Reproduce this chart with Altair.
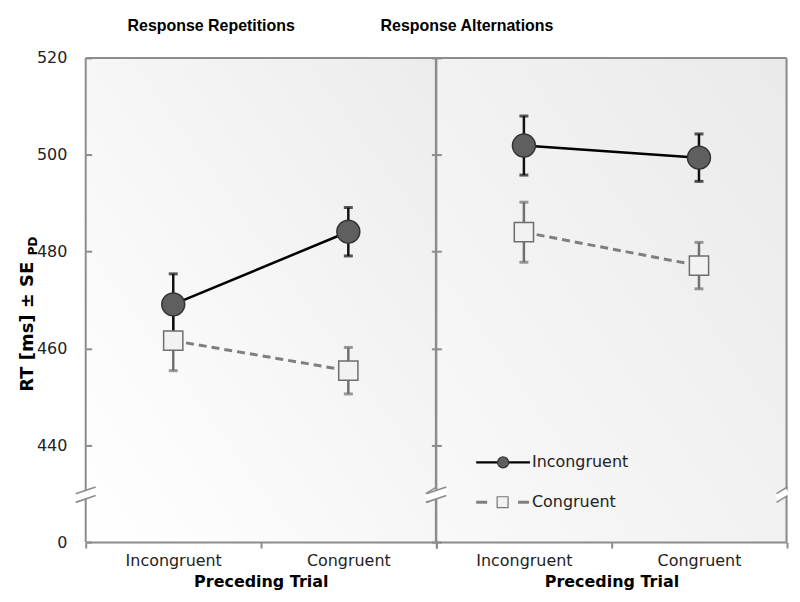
import altair as alt
import pandas as pd

# ---------------- data ----------------
panels = ["Response Repetitions", "Response Alternations"]
preceding = ["Incongruent", "Congruent"]
series_names = ["Incongruent", "Congruent"]

rep_incong_mean = [469.1, 484.1]
rep_incong_se = [6.3, 5.0]
rep_cong_mean = [461.6, 455.4]
rep_cong_se = [6.2, 4.8]

alt_incong_mean = [501.9, 499.4]
alt_incong_se = [6.1, 4.9]
alt_cong_mean = [484.0, 477.1]
alt_cong_se = [6.2, 4.8]

y_tick_values = [420, 440, 460, 480, 500, 520]
y_axis_break = [428.2, 429.1, 430.0]  # lower slash, gap, upper slash (data units)
legend_labels = ["Incongruent", "Congruent"]
y_title = "RT [ms] ± SE"
y_title_sub = "PD"
x_title = "Preceding Trial"

rows = []
for pname, s_means in [
    (panels[0], [(series_names[0], rep_incong_mean, rep_incong_se),
                 (series_names[1], rep_cong_mean, rep_cong_se)]),
    (panels[1], [(series_names[0], alt_incong_mean, alt_incong_se),
                 (series_names[1], alt_cong_mean, alt_cong_se)]),
]:
    for sname, means, ses in s_means:
        for p, m, s in zip(preceding, means, ses):
            rows.append({"panel": pname, "series": sname, "prev": p,
                         "mean": m, "lo": m - s, "hi": m + s})
df = pd.DataFrame(rows)

# ---------------- styling ----------------
W, H = 351.5, 486
EDGE = "#8c8c8c"
LABEL_FONT = "DejaVu Sans"

xscale = alt.Scale(type="band", domain=preceding, paddingInner=0, paddingOuter=0)
yscale = alt.Scale(domain=[420, 520], nice=False, zero=False)

xaxis = alt.Axis(title=x_title, tickBand="extent", domain=True, domainColor=EDGE,
                 domainWidth=2, tickColor=EDGE, tickWidth=2, tickSize=6,
                 labelFont=LABEL_FONT, labelFontSize=16, labelColor="#222",
                 labelPadding=5, labelAngle=0, titleFont=LABEL_FONT,
                 titleFontWeight="bold", titleFontSize=16, titleColor="#000",
                 titlePadding=5, grid=False, zindex=1)

yaxis_left = alt.Axis(values=y_tick_values,
                      labelExpr="datum.value == 420 ? '0' : datum.label",
                      domain=False, tickSize=6, offset=-6, tickColor=EDGE,
                      tickWidth=2, labelFont=LABEL_FONT, labelFontSize=16,
                      labelColor="#222", labelPadding=19, labelFlush=False,
                      labelOverlap=False, grid=False, title=None, zindex=1)
yaxis_right = alt.Axis(values=y_tick_values, labels=False, domain=False,
                       tickSize=10, offset=-5, tickColor=EDGE, tickWidth=2,
                       grid=False, title=None, zindex=1)

one = pd.DataFrame({"k": [0]})


def make_panel(pname, title_dx, title_offset, left, stops):
    yaxis = yaxis_left if left else yaxis_right

    def Y(field):
        return alt.Y(field, scale=yscale, axis=yaxis)

    d = df[df.panel == pname]
    xenc = alt.X("prev:N", sort=preceding, scale=xscale, axis=xaxis)
    base = alt.Chart(d)
    inc = base.transform_filter(alt.datum.series == series_names[0])
    con = base.transform_filter(alt.datum.series == series_names[1])

    bg = alt.Chart(one).mark_rect(fill={
        "gradient": "linear", "x1": 0, "y1": 1, "x2": 1, "y2": 0,
        "stops": [{"offset": o, "color": c} for o, c in stops]}).encode(
        x=alt.value(0), x2=alt.value(W), y=alt.value(0), y2=alt.value(H))

    edges = alt.Chart(pd.DataFrame({"a": [520], "b": [420]}))
    top = edges.mark_rule(color=EDGE, strokeWidth=2).encode(
        x=alt.value(0), x2=alt.value(W), y=Y("a:Q"))
    vl = edges.mark_rule(color=EDGE, strokeWidth=2).encode(
        x=alt.value(0), y=Y("a:Q"), y2="b:Q")
    vr = edges.mark_rule(color=EDGE, strokeWidth=2).encode(
        x=alt.value(W), y=Y("a:Q"), y2="b:Q")

    layers = [bg, top, vl, vr]

    lo, mid, up = y_axis_break
    bd = alt.Chart(pd.DataFrame({"lo1": [lo], "lo2": [lo + 1.4], "m1": [mid],
                                 "m2": [mid + 1.4], "u1": [up], "u2": [up + 1.4]}))
    for xa, xb in [(-10, 10), (W - 10, W + 1)]:
        layers += [
            bd.mark_rule(color="white", strokeWidth=7, strokeCap="butt").encode(
                x=alt.value(xa), x2=alt.value(xb), y=Y("m1:Q"), y2="m2:Q"),
            bd.mark_rule(color=EDGE, strokeWidth=1.6).encode(
                x=alt.value(xa), x2=alt.value(xb), y=Y("lo1:Q"), y2="lo2:Q"),
            bd.mark_rule(color=EDGE, strokeWidth=1.6).encode(
                x=alt.value(xa), x2=alt.value(xb), y=Y("u1:Q"), y2="u2:Q"),
        ]

    layers += [
        con.mark_line(color="#7f7f7f", strokeWidth=3, strokeDash=[8, 5]).encode(x=xenc, y=Y("mean:Q")),
        inc.mark_line(color="#000000", strokeWidth=2.5).encode(x=xenc, y=Y("mean:Q")),
        con.mark_rule(color="#707070", strokeWidth=2.5).encode(x=xenc, y=Y("lo:Q"), y2="hi:Q"),
        con.mark_tick(color="#707070", size=9, thickness=3).encode(x=xenc, y=Y("lo:Q")),
        con.mark_tick(color="#707070", size=9, thickness=3).encode(x=xenc, y=Y("hi:Q")),
        inc.mark_rule(color="#111111", strokeWidth=2.5).encode(x=xenc, y=Y("lo:Q"), y2="hi:Q"),
        inc.mark_tick(color="#111111", size=9, thickness=3).encode(x=xenc, y=Y("lo:Q")),
        inc.mark_tick(color="#111111", size=9, thickness=3).encode(x=xenc, y=Y("hi:Q")),
        con.mark_point(shape="square", filled=True, fill="#f2f2f2", stroke="#6e6e6e",
                       strokeWidth=1.5, size=372, opacity=1).encode(x=xenc, y=Y("mean:Q")),
        inc.mark_point(shape="circle", filled=True, fill="#5f5f5f", stroke="#333333",
                       strokeWidth=1.5, size=529, opacity=1).encode(x=xenc, y=Y("mean:Q")),
    ]

    if left:
        layers += [
            alt.Chart(pd.DataFrame({"t": [y_title]})).mark_text(
                angle=270, align="left", baseline="middle", font=LABEL_FONT,
                fontWeight="bold", fontSize=18, color="#000").encode(
                text="t:N", x=alt.value(-58), y=alt.value(335)),
            alt.Chart(pd.DataFrame({"t": [y_title_sub]})).mark_text(
                angle=270, align="left", baseline="middle", font=LABEL_FONT,
                fontWeight="bold", fontSize=12, color="#000").encode(
                text="t:N", x=alt.value(-53), y=alt.value(198)),
        ]
    else:
        ly1, ly2 = 406, 446
        layers += [
            alt.Chart(one).mark_rule(color="#000", strokeWidth=2.5).encode(
                x=alt.value(40), x2=alt.value(94), y=alt.value(ly1)),
            alt.Chart(one).mark_point(shape="circle", filled=True, fill="#5f5f5f",
                                      stroke="#333", strokeWidth=1.2, size=121,
                                      opacity=1).encode(x=alt.value(67), y=alt.value(ly1)),
            alt.Chart(one).mark_rule(color="#7f7f7f", strokeWidth=3).encode(
                x=alt.value(40), x2=alt.value(51), y=alt.value(ly2)),
            alt.Chart(one).mark_rule(color="#7f7f7f", strokeWidth=3).encode(
                x=alt.value(82), x2=alt.value(93), y=alt.value(ly2)),
            alt.Chart(one).mark_point(shape="square", filled=True, fill="#f2f2f2",
                                      stroke="#777", strokeWidth=1.2, size=121,
                                      opacity=1).encode(x=alt.value(66.5), y=alt.value(ly2)),
            alt.Chart(pd.DataFrame({"t": [legend_labels[0]]})).mark_text(
                align="left", baseline="middle", font=LABEL_FONT, fontSize=16,
                color="#222").encode(text="t:N", x=alt.value(96), y=alt.value(ly1)),
            alt.Chart(pd.DataFrame({"t": [legend_labels[1]]})).mark_text(
                align="left", baseline="middle", font=LABEL_FONT, fontSize=16,
                color="#222").encode(text="t:N", x=alt.value(96), y=alt.value(ly2)),
        ]

    return alt.layer(*layers).properties(
        width=W, height=H,
        title=alt.Title(pname, anchor="start", frame="group", dx=title_dx,
                        offset=title_offset, baseline="alphabetic",
                        font="Liberation Sans", fontSize=16, fontWeight="bold",
                        color="#000"))


left_panel = make_panel(panels[0], 42, 3, True,
                        [(0, "#ffffff"), (0.35, "#f9f9f9"), (1, "#ececec")])
right_panel = make_panel(panels[1], -56, 10, False,
                         [(0, "#f9f9f9"), (1, "#eaeaea")])

chart = alt.hconcat(left_panel, right_panel, spacing=0, bounds="flush").properties(
    padding={"left": 10, "top": 8, "right": 0, "bottom": 0}
).configure_view(stroke=None).configure(background="white")

chart.save("out.html", embed_options={"renderer": "svg", "actions": False})
